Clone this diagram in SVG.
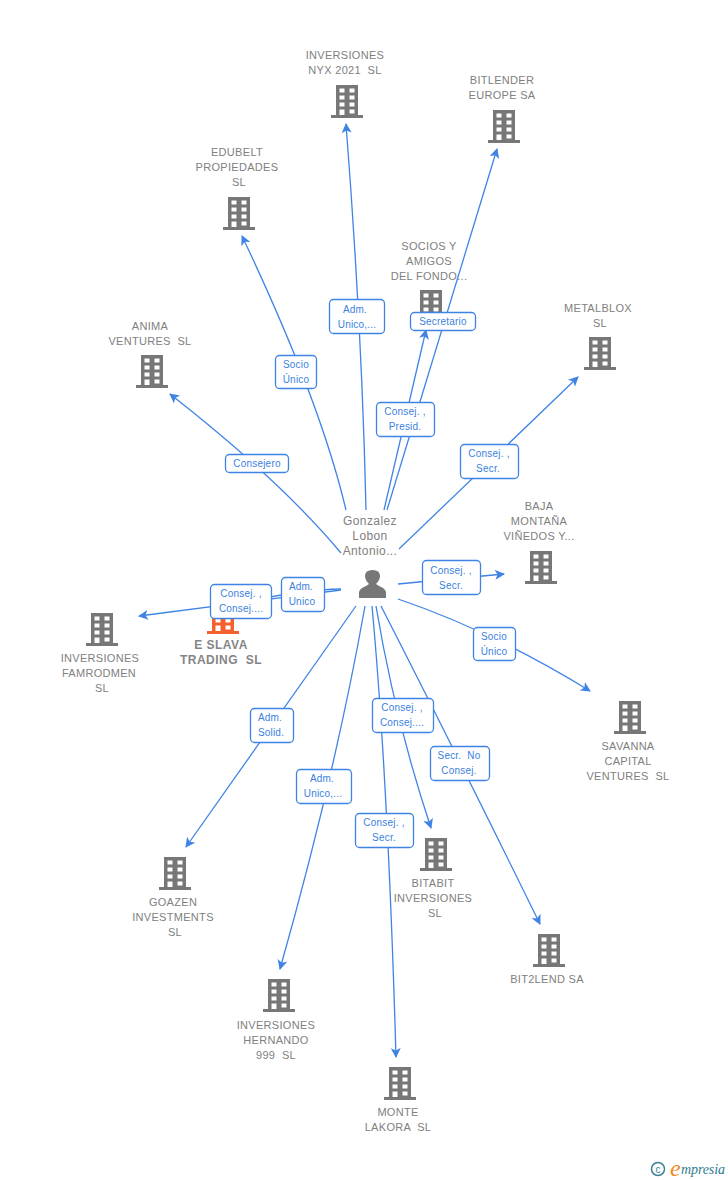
<svg xmlns="http://www.w3.org/2000/svg" xmlns:xlink="http://www.w3.org/1999/xlink" width="728" height="1180" viewBox="0 0 728 1180">
<style>
text{font-family:"Liberation Sans",Arial,sans-serif}
.n{font-size:11px;fill:#808080;text-anchor:middle;letter-spacing:.3px}
.p{font-size:12px;fill:#808080;text-anchor:middle;letter-spacing:.4px}
.e{font-size:12px;font-weight:bold;fill:#858585;text-anchor:middle;letter-spacing:.5px}
.l{font-size:10px;fill:#3a7fe0;text-anchor:middle;letter-spacing:.2px}
.c path{fill:none;stroke:#3f84e5;stroke-width:1.3;marker-end:url(#a)}
.b{fill:#fff;stroke:#3f84e5;stroke-width:1.3}
</style>
<defs>
<marker id="a" markerUnits="userSpaceOnUse" markerWidth="12" markerHeight="12" refX="9" refY="5" orient="auto"><path d="M0 0L10 5L0 10L2.5 5Z" fill="#3f84e5"/></marker>
<g id="i">
<path fill-rule="evenodd" d="M-11-16H11V14H16V17H-16V14H-11ZM-7.500-12.500V-8.500H-2.500V-12.500ZM2.500-12.500V-8.500H7.500V-12.500ZM-7.500-5.500V-1.500H-2.500V-5.500ZM2.500-5.500V-1.500H7.500V-5.500ZM-7.500 1.500V5.500H-2.500V1.500ZM2.500 1.500V5.500H7.500V1.500ZM-7.500 8.500V14H-2.500V8.500ZM2.500 8.500V12.500H7.500V8.500Z"/>
</g>
</defs>
<rect width="728" height="1180" fill="#fff"/>
<g id="connectors" class="c">
<path d="M366 510Q362 330 346 124"/>
<path d="M387 510L497 149"/>
<path d="M346 510Q320 400 242 236"/>
<path d="M384 510L426 330"/>
<path d="M399 549L578 377"/>
<path d="M341 553Q280 480 170 394"/>
<path d="M398 584L504 574"/>
<path d="M341 590L139 616"/>
<path d="M341 589Q300 590 240 603"/>
<path d="M398 599Q490 630 590 691"/>
<path d="M356 606L186 847"/>
<path d="M365 606Q335 775 280 969"/>
<path d="M372 606Q388 780 396 1057"/>
<path d="M376 606Q395 720 431 828"/>
<path d="M381 606Q452 745 540 924"/>
</g>
<g id="eslava"><use href="#i" x="223" y="617" fill="#f4612f"/><text class="e" x="221" y="649">E SLAVA</text><text class="e" x="221" y="664" xml:space="preserve">TRADING  SL</text></g>
<g id="nyx"><use href="#i" x="347" y="101" fill="#777"/><text class="n" x="345" y="59">INVERSIONES</text><text class="n" x="345" y="74" xml:space="preserve">NYX 2021  SL</text></g>
<g id="bitlender"><use href="#i" x="504" y="126" fill="#777"/><text class="n" x="502" y="84">BITLENDER</text><text class="n" x="502" y="99">EUROPE SA</text></g>
<g id="edubelt"><use href="#i" x="239" y="213" fill="#777"/><text class="n" x="237" y="156">EDUBELT</text><text class="n" x="237" y="171">PROPIEDADES</text><text class="n" x="239" y="186">SL</text></g>
<g id="socios"><use href="#i" x="431" y="306" fill="#777"/><text class="n" x="429" y="250">SOCIOS Y</text><text class="n" x="429" y="265">AMIGOS</text><text class="n" x="429" y="280">DEL FONDO...</text></g>
<g id="metalblox"><use href="#i" x="600" y="353" fill="#777"/><text class="n" x="598" y="312">METALBLOX</text><text class="n" x="600" y="327">SL</text></g>
<g id="anima"><use href="#i" x="152" y="371" fill="#777"/><text class="n" x="150" y="330">ANIMA</text><text class="n" x="150" y="345" xml:space="preserve">VENTURES  SL</text></g>
<g id="baja"><use href="#i" x="541" y="567" fill="#777"/><text class="n" x="539" y="510">BAJA</text><text class="n" x="539" y="525">MONTAÑA</text><text class="n" x="539" y="540">VIÑEDOS Y...</text></g>
<g id="famrodmen"><use href="#i" x="102" y="629" fill="#777"/><text class="n" x="100" y="662">INVERSIONES</text><text class="n" x="99" y="677">FAMRODMEN</text><text class="n" x="102" y="692">SL</text></g>
<g id="savanna"><use href="#i" x="630" y="717" fill="#777"/><text class="n" x="628" y="750">SAVANNA</text><text class="n" x="628" y="765">CAPITAL</text><text class="n" x="628" y="780" xml:space="preserve">VENTURES  SL</text></g>
<g id="goazen"><use href="#i" x="175" y="873" fill="#777"/><text class="n" x="173" y="906">GOAZEN</text><text class="n" x="173" y="921">INVESTMENTS</text><text class="n" x="175" y="936">SL</text></g>
<g id="bitabit"><use href="#i" x="436" y="854" fill="#777"/><text class="n" x="433" y="887">BITABIT</text><text class="n" x="433" y="902">INVERSIONES</text><text class="n" x="435" y="917">SL</text></g>
<g id="bit2lend"><use href="#i" x="549" y="950" fill="#777"/><text class="n" x="547" y="983">BIT2LEND SA</text></g>
<g id="hernando"><use href="#i" x="279" y="995" fill="#777"/><text class="n" x="276" y="1029">INVERSIONES</text><text class="n" x="276" y="1044">HERNANDO</text><text class="n" x="276" y="1059" xml:space="preserve">999  SL</text></g>
<g id="monte"><use href="#i" x="400" y="1083" fill="#777"/><text class="n" x="398" y="1116">MONTE</text><text class="n" x="398" y="1131" xml:space="preserve">LAKORA  SL</text></g>
<g id="person">
<path d="M359 598V592Q360 588 366 586L369 584Q365 580 365 576Q365 570 372.500 570Q380 570 380 576Q380 580 376 584L379 586Q385 588 386 592V598Z" fill="#777"/>
<text class="p" x="370" y="525">Gonzalez</text><text class="p" x="370" y="540">Lobon</text><text class="p" x="370" y="555">Antonio...</text>
</g>
<g id="edge-labels">
<g><rect class="b" x="329.500" y="299.500" width="55" height="34" rx="4"/><text class="l" x="355" y="313">Adm.</text><text class="l" x="357" y="328">Unico,...</text></g>
<g><rect class="b" x="410.500" y="312.500" width="65" height="18" rx="4"/><text class="l" x="443" y="325">Secretario</text></g>
<g><rect class="b" x="275.500" y="355.500" width="41" height="33" rx="4"/><text class="l" x="296" y="368">Socio</text><text class="l" x="296" y="383">Único</text></g>
<g><rect class="b" x="376.500" y="402.500" width="58" height="34" rx="4"/><text class="l" x="405" y="415" xml:space="preserve">Consej. ,</text><text class="l" x="405" y="430">Presid.</text></g>
<g><rect class="b" x="225.500" y="454.500" width="63" height="18" rx="4"/><text class="l" x="257" y="467">Consejero</text></g>
<g><rect class="b" x="460.500" y="444.500" width="58" height="34" rx="4"/><text class="l" x="489" y="457" xml:space="preserve">Consej. ,</text><text class="l" x="488" y="472">Secr.</text></g>
<g><rect class="b" x="422.500" y="560.500" width="58" height="34" rx="4"/><text class="l" x="451" y="574" xml:space="preserve">Consej. ,</text><text class="l" x="451" y="589">Secr.</text></g>
<g><rect class="b" x="281.500" y="577.500" width="43" height="34" rx="4"/><text class="l" x="301" y="590">Adm.</text><text class="l" x="302" y="605">Unico</text></g>
<g><rect class="b" x="210.500" y="584.500" width="61" height="34" rx="4"/><text class="l" x="241" y="597" xml:space="preserve">Consej. ,</text><text class="l" x="241" y="612">Consej....</text></g>
<g><rect class="b" x="473.500" y="627.500" width="42" height="33" rx="4"/><text class="l" x="494" y="640">Socio</text><text class="l" x="494" y="655">Único</text></g>
<g><rect class="b" x="250.500" y="708.500" width="43" height="34" rx="4"/><text class="l" x="270" y="721">Adm.</text><text class="l" x="271" y="736">Solid.</text></g>
<g><rect class="b" x="372.500" y="698.500" width="61" height="34" rx="4"/><text class="l" x="402" y="711" xml:space="preserve">Consej. ,</text><text class="l" x="402" y="726">Consej....</text></g>
<g><rect class="b" x="430.500" y="746.500" width="59" height="34" rx="4"/><text class="l" x="459" y="759" xml:space="preserve">Secr.  No</text><text class="l" x="459" y="774">Consej.</text></g>
<g><rect class="b" x="296.500" y="769.500" width="55" height="34" rx="4"/><text class="l" x="322" y="782">Adm.</text><text class="l" x="323" y="797">Unico,...</text></g>
<g><rect class="b" x="355.500" y="813.500" width="58" height="34" rx="4"/><text class="l" x="384" y="826" xml:space="preserve">Consej. ,</text><text class="l" x="384" y="841">Secr.</text></g>
</g>
<g id="logo"><circle cx="658" cy="1169" r="6.500" fill="none" stroke="#3d7f94" stroke-width="1.500"/><text x="658" y="1172.500" font-size="10" fill="#3d7f94" text-anchor="middle">c</text><text x="670" y="1176" font-size="24" font-style="italic" style="font-family:'Liberation Serif',serif" fill="#ee8a1c">e</text><text x="681" y="1174" font-size="14" font-style="italic" style="font-family:'Liberation Serif',serif" fill="#2f7d8f" textLength="44">mpresia</text></g>
</svg>
